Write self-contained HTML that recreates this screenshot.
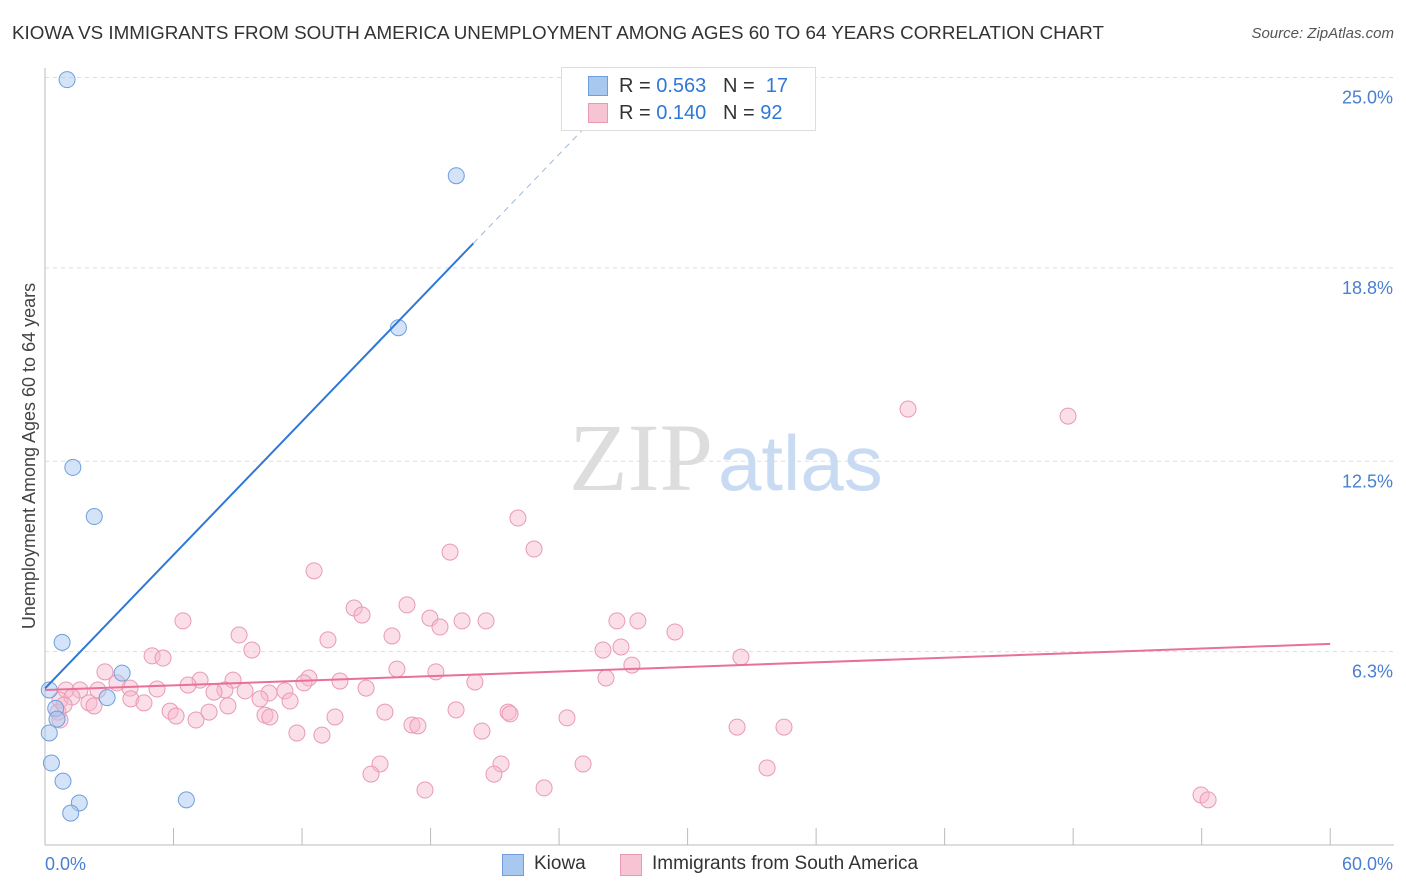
<!DOCTYPE html>
<html><head><meta charset="utf-8"><style>
body{margin:0;background:#fff;font-family:"Liberation Sans",sans-serif;}
#wrap{position:relative;width:1406px;height:892px;overflow:hidden;}
.t{position:absolute;white-space:nowrap;}
</style></head><body>
<div id="wrap">
<div class="t" style="left:12px;top:22px;font-size:18.8px;color:#333;">KIOWA VS IMMIGRANTS FROM SOUTH AMERICA UNEMPLOYMENT AMONG AGES 60 TO 64 YEARS CORRELATION CHART</div>
<div class="t" style="right:12px;top:25px;font-size:15px;color:#555;font-style:italic;">Source: ZipAtlas.com</div>
<svg id="svg" width="1406" height="892" style="position:absolute;left:0;top:0"></svg>
</div>
<script>
const yTicks=[25.0,18.8,12.5,6.3];
const yTickLabels=["25.0%","18.8%","12.5%","6.3%"];
const xTickVals=[0,6,12,18,24,30,36,42,48,54,60];
const kiowaX=[1.03,19.2,16.5,1.3,2.3,0.8,3.6,2.9,0.5,0.56,0.2,0.3,0.84,1.6,1.2,6.6,0.2];
const kiowaY=[24.93,21.8,16.85,12.3,10.7,6.6,5.6,4.8,4.45,4.1,3.65,2.67,2.08,1.37,1.04,1.47,5.05];
const immX=[40.29,47.76,22.08,18.91,22.83,12.56,14.43,14.8,16.9,6.44,17.97,19.47,20.59,26.7,27.68,29.41,9.06,13.21,16.2,18.44,9.66,5.0,5.51,26.05,26.89,32.49,2.8,27.4,16.43,18.25,7.24,8.78,12.32,13.77,20.07,26.19,3.36,3.97,6.68,8.4,9.34,10.46,11.2,12.09,14.99,5.23,0.98,1.63,2.47,0.7,1.26,2.05,2.29,4.01,4.62,7.89,10.04,11.44,8.54,5.84,6.12,7.05,7.66,10.27,10.5,13.54,15.87,19.19,21.62,21.71,24.37,17.13,17.41,20.4,11.76,12.93,32.31,34.5,15.64,15.22,21.29,20.96,25.12,33.71,17.74,23.3,53.97,54.3,0.61,0.7,0.89];
const immY=[14.2,13.97,10.65,9.54,9.64,8.93,7.72,7.49,7.82,7.3,7.39,7.3,7.3,7.3,7.3,6.94,6.84,6.68,6.81,7.1,6.35,6.16,6.09,6.35,6.45,6.12,5.64,5.86,5.73,5.64,5.37,5.37,5.44,5.34,5.31,5.44,5.28,5.11,5.21,5.05,5.02,4.95,5.02,5.28,5.11,5.08,5.05,5.05,5.05,4.72,4.82,4.63,4.53,4.76,4.63,4.98,4.76,4.69,4.53,4.36,4.2,4.07,4.33,4.23,4.17,4.17,4.33,4.4,4.33,4.27,4.14,3.91,3.88,3.71,3.65,3.58,3.84,3.84,2.64,2.31,2.64,2.31,2.64,2.51,1.79,1.86,1.63,1.47,4.33,4.07,4.56];
const kiowaLine=[5.1,0.725];
const immLine=[5.05,0.025];
const X=v=>45+v*21.42, Y=v=>845-v*30.7;
const svg=document.getElementById('svg');const NS='http://www.w3.org/2000/svg';
function mk(tag,a,name){const e=document.createElementNS(NS,tag);for(const k in a)e.setAttribute(k,a[k]);


svg.appendChild(e);return e;}
yTicks.forEach((v,i)=>{mk('line',{x1:45,x2:1394,y1:Y(v),y2:Y(v),stroke:'#ddd','stroke-dasharray':'4,4'},'y-gridline');
const t=mk('text',{x:1393,y:Y(v)+26,'text-anchor':'end','font-size':18,fill:'#4a7fd0','font-family':'Liberation Sans'},'y-tick-label');t.textContent=yTickLabels[i];});
let t=mk('text',{x:713,y:490,'text-anchor':'end','font-size':96,fill:'#ddd','font-family':'Liberation Serif'},'watermark-zip');t.textContent='ZIP';
t=mk('text',{x:718,y:490,'font-size':78,fill:'#c9dbf3','font-family':'Liberation Sans'},'watermark-atlas');t.textContent='atlas';
mk('line',{x1:45,x2:1394,y1:845,y2:845,stroke:'#bbb'},'x-axis');
mk('line',{x1:45,x2:45,y1:68,y2:845,stroke:'#bbb'},'y-axis');
xTickVals.forEach((v,i)=>{if(i>0)mk('line',{x1:X(v),x2:X(v),y1:828,y2:845,stroke:'#bbb'},'x-tick');});
t=mk('text',{x:45,y:870,'font-size':18,fill:'#4a7fd0','font-family':'Liberation Sans'},'x-min-label');t.textContent='0.0%';
t=mk('text',{x:1393,y:870,'text-anchor':'end','font-size':18,fill:'#4a7fd0','font-family':'Liberation Sans'},'x-max-label');t.textContent='60.0%';
t=mk('text',{x:35,y:456,'text-anchor':'middle','font-size':18,fill:'#444','font-family':'Liberation Sans',transform:'rotate(-90 35 456)'},'y-axis-title');t.textContent='Unemployment Among Ages 60 to 64 years';
immX.forEach((v,i)=>mk('circle',{cx:X(v),cy:Y(immY[i]),r:8,fill:'rgba(247,185,204,0.45)',stroke:'#e99ab3','stroke-width':1},'immigrant-point'));
kiowaX.forEach((v,i)=>mk('circle',{cx:X(v),cy:Y(kiowaY[i]),r:8,fill:'rgba(169,200,240,0.5)',stroke:'#6e9fdc','stroke-width':1},'kiowa-point'));
mk('line',{x1:X(0),y1:Y(kiowaLine[0]),x2:X(20),y2:Y(kiowaLine[0]+20*kiowaLine[1]),stroke:'#2f78d8','stroke-width':2},'kiowa-trendline');
mk('line',{x1:X(20),y1:Y(kiowaLine[0]+20*kiowaLine[1]),x2:X(27.5),y2:Y(kiowaLine[0]+27.5*kiowaLine[1]),stroke:'#9fb8dc','stroke-width':1,'stroke-dasharray':'6,5'},'kiowa-trendline-extension');
mk('line',{x1:X(0),y1:Y(immLine[0]),x2:X(60),y2:Y(immLine[0]+60*immLine[1]),stroke:'#e8709a','stroke-width':2},'immigrant-trendline');
</script>
<div class="t" style="left:561px;top:67px;width:253px;height:62px;border:1px solid #ddd;background:#fff;font-size:20px;color:#333;">
<div style="position:absolute;left:26px;top:8px;width:18px;height:18px;background:#a9c8f0;border:1px solid #6e9fdc"></div>
<div class="t" style="left:57px;top:7px">R = <span style="color:#2f78d8">0.563</span>&nbsp;&nbsp;&nbsp;N = &nbsp;<span style="color:#2f78d8">17</span></div>
<div style="position:absolute;left:26px;top:35px;width:18px;height:18px;background:#f7c4d4;border:1px solid #e99ab3"></div>
<div class="t" style="left:57px;top:34px">R = <span style="color:#2f78d8">0.140</span>&nbsp;&nbsp;&nbsp;N = <span style="color:#2f78d8">92</span></div>
</div>
<div style="position:absolute;left:502px;top:853px;font-size:19px;color:#333;">
<div style="position:absolute;left:0;top:1px;width:20px;height:20px;background:#a9c8f0;border:1px solid #6e9fdc"></div>
<div class="t" style="left:32px;top:0">Kiowa</div>
<div style="position:absolute;left:118px;top:1px;width:20px;height:20px;background:#f7c4d4;border:1px solid #e99ab3"></div>
<div class="t" style="left:150px;top:0">Immigrants from South America</div>
</div>
</body></html>
